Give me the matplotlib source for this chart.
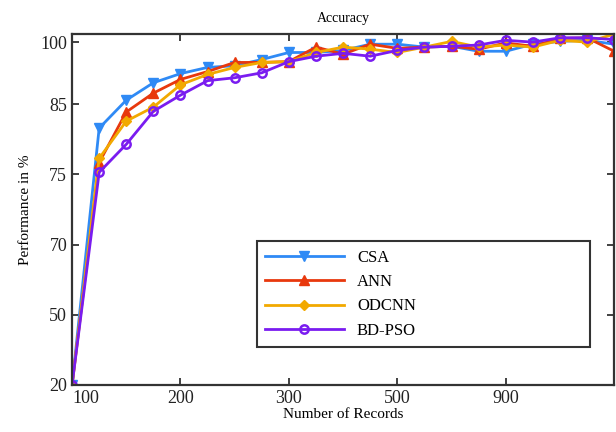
import numpy as np
import matplotlib
matplotlib.use("Agg")
import matplotlib.pyplot as plt

plt.rcParams["font.family"] = ["Liberation Serif", "DejaVu Serif"]

# number of records (x) and accuracy in % for each method
records = [100, 125, 150, 175, 200, 225, 250, 275, 300, 350, 400,
           450, 500, 600, 700, 800, 900, 1000, 1100, 1200, 1300]

csa = [20, 81.6, 86.0, 90.2, 92.4, 93.9, 94.3, 95.8, 97.5, 97.5, 98.0,
       99.5, 99.5, 98.8, 99.0, 97.8, 97.8, 99.5, 100.2, 100.5, 99.5]
ann = [20, 76.7, 83.9, 87.7, 91.0, 92.9, 95.1, 95.1, 95.3, 98.8, 97.1,
       99.5, 98.5, 98.8, 99.0, 98.3, 99.8, 99.0, 101.0, 101.2, 97.8]
odcnn = [20, 77.3, 82.6, 84.6, 89.7, 92.2, 93.9, 95.1, 95.3, 97.5, 98.8,
         98.3, 97.5, 98.8, 100.2, 98.8, 99.3, 98.8, 100.5, 100.0, 102.2]
bdpso = [20, 75.3, 79.3, 84.0, 87.2, 90.7, 91.4, 92.6, 95.3, 96.6, 97.3,
         96.6, 98.0, 98.8, 99.0, 99.3, 100.5, 100.0, 101.2, 101.2, 100.7]

x_ticks = [100, 200, 300, 500, 900]
y_ticks = [20, 50, 70, 75, 85, 100]

# the original axes are not linear: each labelled tick gets the same room
x_knots = [100, 200, 300, 500, 900, 1300]
x_pos = [0, 1, 2, 3, 4, 5]
y_knots = [20, 50, 70, 75, 85, 100, 102.2]
y_pos = [0, 1, 2, 3, 4, 4.886, 5.0]


def x_fwd(v):
    return np.interp(v, x_knots, x_pos)


def x_inv(p):
    return np.interp(p, x_pos, x_knots)


def y_fwd(v):
    return np.interp(v, y_knots, y_pos)


def y_inv(p):
    return np.interp(p, y_pos, y_knots)


fig = plt.figure(figsize=(6.16, 4.32), dpi=100)
ax = fig.add_axes([0.117, 0.109, 0.880, 0.812])
ax.set_xscale("function", functions=(x_fwd, x_inv))
ax.set_yscale("function", functions=(y_fwd, y_inv))

ax.plot(records, csa, color="#2f8af5", lw=2, marker="v", ms=6.5, label="CSA")
ax.plot(records, ann, color="#e8380d", lw=2, marker="^", ms=6.5, label="ANN")
ax.plot(records, odcnn, color="#f2a900", lw=2, marker="D", ms=5, label="ODCNN")
ax.plot(records, bdpso, color="#7a1cf0", lw=2, marker="o", ms=6,
        markerfacecolor="none", markeredgewidth=1.8, label="BD-PSO")

ax.set_xlim(100, 1300)
ax.set_ylim(20, 102.2)
ax.set_xticks(x_ticks)
ax.set_xticklabels([str(t) for t in x_ticks])
ax.set_yticks(y_ticks)
ax.set_yticklabels([str(t) for t in y_ticks])
ax.minorticks_off()
ax.tick_params(direction="in", length=5, width=1.3, top=True, right=True,
               labelsize=13, colors="#333333", labelcolor="#222222")
for lab in ax.get_xticklabels():
    if lab.get_text() == "100":
        lab.set_horizontalalignment("left")

for s in ax.spines.values():
    s.set_linewidth(1.6)
    s.set_color("#333333")

ax.set_title("Accuracy", fontsize=10, pad=9)
ax.set_xlabel("Number of Records", fontsize=11, labelpad=1)
ax.set_ylabel("Performance in %", fontsize=11, labelpad=6)

leg = ax.legend(loc="lower left", bbox_to_anchor=(0.341, 0.108, 0.615, 0.297),
                mode="expand", fontsize=12, handlelength=4.7, labelspacing=0.5,
                fancybox=False, framealpha=1, borderpad=0.5, borderaxespad=0)
leg.get_frame().set_edgecolor("#333333")
leg.get_frame().set_linewidth(1.5)

fig.savefig("out.png", dpi=100)
